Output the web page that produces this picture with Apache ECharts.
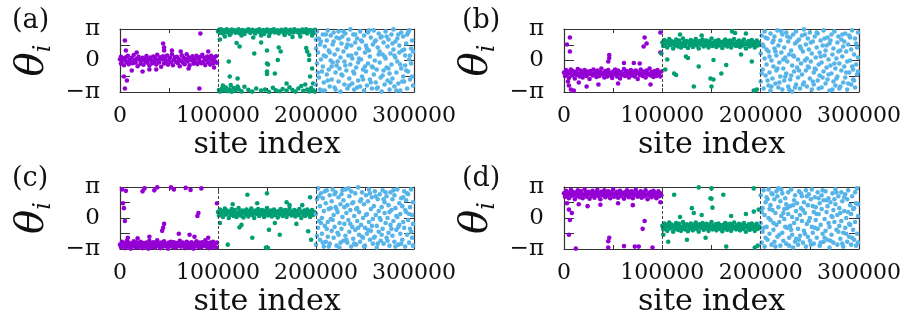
<!DOCTYPE html>
<html><head><meta charset="utf-8">
<script src="https://cdn.jsdelivr.net/npm/echarts@6/dist/echarts.min.js"></script>
<style>html,body{margin:0;padding:0;background:#fff}#c{width:906px;height:321px}</style>
</head><body><div id="c"></div>
<script>
// x in thousands of sites, y = theta_i in radians
const xTickValues=[0,100,200,300];
const xTickLabels=['0','100000','200000','300000'];
const yTickLabels=['−π','0','π'];
const panelLabels=['(a)','(b)','(c)','(d)'];
const boundaries=[100,200];

const aPurple=[[0,0.12],[1,-0.31],[1,0.38],[2,-0.05],[3,0.22],[4,-0.48],[5,0.03],[6,0.31],[7,-0.18],[8,0.47],[9,-0.37],[10,0.09],[11,-0.12],[12,0.28],[13,-0.27],[14,0.55],[15,0.02],[16,-0.21],[17,0.18],[18,-0.58],[19,0.36],[20,0.07],[21,-0.33],[22,0.01],[23,0.26],[24,-0.42],[25,0.17],[26,-0.08],[27,0.44],[28,-0.22],[29,0.11],[30,-0.51],[31,0.29],[32,-0.02],[33,-0.28],[34,0.39],[35,-0.11],[36,0.21],[37,-0.39],[38,0.58],[39,0.04],[40,-0.19],[41,0.33],[42,-0.62],[43,0.13],[44,0.41],[45,-0.29],[46,0.19],[47,-0.06],[48,0.49],[49,-0.41],[50,0.01],[51,0.27],[52,-0.17],[53,0.61],[54,-0.47],[55,0.08],[56,0.31],[57,-0.13],[58,0.37],[59,-0.26],[60,0.16],[61,-0.57],[62,-0.01],[63,0.52],[64,-0.19],[65,0.28],[66,-0.38],[67,0.09],[68,0.63],[69,-0.09],[70,0.32],[71,-0.49],[72,0.18],[73,0.02],[74,0.43],[75,-0.31],[76,0.12],[77,-0.21],[78,0.47],[79,-0.36],[80,0.21],[81,-0.03],[82,0.38],[83,-0.27],[84,0.57],[85,-0.12],[86,0.26],[87,-0.46],[88,0.07],[89,0.39],[90,-0.18],[91,0.23],[92,-0.41],[93,0.48],[94,0.03],[95,-0.29],[96,0.31],[97,-0.09],[98,0.42],[99,-0.22],
[5,2.0],[6,1.0],[4,-1.6],[5,-2.8],[7,-2.0],[23,-1.1],[44,1.7],[45,1.3],[45,1.0],[82,2.7],[81,-2.8],[53,1.0],[30,-0.9],[12,-1.0],[62,0.9],[70,-0.8],[90,0.9],[17,0.8],[37,-0.9],[96,-0.7]];
const aGreen=[[100,2.9],[101,3.05],[102,2.75],[103,3.1],[104,2.95],[105,2.7],[106,3.0],[108,2.85],[109,3.12],[110,2.8],[111,2.98],[113,2.68],[114,3.08],[115,2.9],[117,3.02],[118,2.78],[119,2.95],[121,3.1],[122,2.72],[123,2.88],[125,3.04],[126,2.82],[127,2.65],[129,3.0],[130,2.92],[131,3.12],[133,2.76],[134,2.97],[135,3.06],[137,2.84],[138,2.7],[139,3.01],[141,2.9],[142,3.1],[143,2.79],[145,2.94],[146,3.04],[147,2.66],[149,2.87],[150,3.09],[151,2.96],[153,2.74],[154,3.03],[155,2.89],[157,3.12],[158,2.8],[159,2.93],[161,3.0],[162,2.71],[163,2.86],[165,3.07],[166,2.95],[167,2.77],[169,3.1],[170,2.83],[171,2.99],[173,2.68],[174,3.05],[175,2.91],[177,2.79],[178,3.11],[179,2.96],[181,2.85],[182,3.02],[183,2.73],[185,2.94],[186,3.08],[187,2.81],[189,2.97],[190,3.12],[191,2.7],[193,2.9],[194,3.04],[195,2.86],[197,2.99],[198,2.76],[199,3.06],
[107,2.4],[124,2.5],[136,2.3],[152,2.45],[168,2.55],[184,2.4],[196,2.5],[112,2.55],[144,2.5],[176,2.35],
[101,-2.95],[102,-3.1],[104,-2.8],[106,-3.0],[108,-2.7],[110,-3.05],[112,-2.88],[114,-3.12],[116,-2.75],[118,-2.98],[121,-2.85],[124,-3.08],[127,-2.62],[131,-2.93],[135,-3.1],[139,-2.8],[144,-3.0],[148,-2.9],[152,-3.12],[156,-2.72],[159,-2.97],[163,-3.06],[166,-2.84],[170,-3.0],[173,-2.68],[176,-2.95],[179,-3.1],[182,-2.8],[185,-2.55],[187,-3.02],[189,-2.4],[191,-2.9],[193,-3.08],[195,-2.75],[197,-2.98],[199,-3.1],[105,-2.5],[113,-2.45],[120,-2.6],
[102,2.1],[119,1.75],[122,1.4],[137,0.7],[150,1.0],[151,-0.4],[162,1.3],[150,-1.1],[158,-1.3],[112,-1.6],[120,-1.8],[191,0.9],[193,0.05],[196,-0.8],[197,-2.3],[111,-0.1],[144,1.8],[164,0.9],[161,0.05],[150,-0.3],[150,-1.35],[190,1.25],[193,0.55],[194,-1.6],[170,-2.3]];
const aBlue=[[200,1.2],[200,-2.4],[201,2.9],[201,-0.3],[202,0.8],[203,-1.7],[203,2.2],[204,-2.9],[205,0.1],[205,1.9],[206,-1.1],[207,2.6],[207,-0.6],[208,-2.2],[209,1.4],[209,-3.0],[210,0.4],[211,2.0],[211,-1.4],[212,3.0],[213,-0.9],[213,1.0],[214,-2.6],[215,0.0],[215,2.5],[216,-1.9],[217,1.6],[217,-0.2],[218,2.8],[219,-2.7],[219,0.6],[220,-1.2],[221,2.3],[221,-0.5],[222,1.1],[223,-2.1],[223,2.9],[224,-0.8],[225,0.3],[225,-3.1],[226,1.7],[227,-1.5],[227,2.4],[228,0.9],[229,-2.4],[229,-0.1],[230,2.7],[231,-1.0],[231,1.3],[232,-2.8],[233,0.5],[233,2.1],[234,-1.8],[235,3.1],[235,-0.4],[236,1.5],[237,-2.3],[237,0.2],[238,2.6],[239,-1.3],[239,-2.9],[240,1.8],[241,-0.7],[241,0.7],[242,2.2],[243,-2.0],[243,-0.2],[244,1.2],[245,-2.6],[245,2.9],[246,0.1],[247,-1.6],[247,1.9],[248,-0.9],[249,2.5],[249,-3.0],[250,0.8],[251,-1.1],[251,1.5],[252,-2.5],[253,2.8],[253,-0.3],[254,1.0],[255,-1.9],[255,0.4],[256,2.3],[257,-2.8],[257,-0.6],[258,1.6],[259,3.0],[259,-1.4],[260,0.0],[261,-2.2],[261,2.0],[262,-0.9],[263,1.3],[263,-2.7],[264,2.7],[265,-0.2],[265,0.9],[266,-1.7],[267,2.4],[267,-3.1],[268,0.6],[269,-1.0],[269,1.8],[270,-2.4],[271,2.9],[271,0.2],[272,-0.7],[273,1.4],[273,-2.0],[274,2.1],[275,-1.3],[275,-2.9],[276,0.7],[277,2.6],[277,-0.4],[278,-1.8],[279,1.1],[279,3.1],[280,-2.6],[281,0.3],[281,1.9],[282,-1.2],[283,2.2],[283,-0.1],[284,-2.3],[285,1.5],[285,0.8],[286,-3.0],[287,2.8],[287,-0.8],[288,1.0],[289,-1.6],[289,2.4],[290,-2.1],[291,0.5],[291,-0.5],[292,1.7],[293,-2.8],[293,2.6],[294,-1.1],[295,0.1],[295,3.0],[296,-1.9],[297,1.2],[297,-0.3],[298,2.0],[299,-2.5],[299,0.9],
[200,2.1],[202,-1.2],[204,1.6],[206,-3.0],[208,0.5],[210,2.6],[212,-2.0],[214,0.8],[216,-0.6],[218,1.9],[220,-2.9],[222,-0.1],[224,2.2],[226,-1.4],[228,2.9],[230,-0.5],[232,1.6],[234,-2.5],[236,0.5],[238,-1.1],[240,2.6],[242,-2.7],[244,0.2],[246,2.0],[248,-1.9],[250,-0.6],[252,1.2],[254,3.0],[256,-2.2],[258,-0.7],[260,1.9],[262,-2.8],[264,0.6],[266,2.3],[268,-1.5],[270,0.4],[272,2.4],[274,-0.8],[276,-2.2],[278,1.7],[280,0.5],[282,-3.0],[284,2.6],[286,-0.4],[288,-2.1],[290,1.1],[292,-1.0],[294,2.8],[296,0.5],[298,-1.6]];

const bPurple=[[0,-1.2],[1,-1.55],[2,-0.95],[3,-1.4],[4,-1.1],[5,-1.75],[6,-1.25],[7,-0.9],[8,-1.5],[9,-1.05],[10,-1.35],[11,-1.8],[12,-1.15],[13,-1.45],[14,-0.85],[15,-1.3],[16,-1.6],[17,-1.0],[18,-1.25],[19,-1.7],[20,-1.4],[21,-0.95],[22,-1.2],[23,-1.55],[24,-1.1],[25,-1.35],[26,-1.85],[27,-1.05],[28,-1.3],[29,-1.5],[30,-0.9],[31,-1.45],[32,-1.2],[33,-1.65],[34,-1.0],[35,-1.3],[36,-1.55],[37,-1.15],[38,-0.8],[39,-1.4],[40,-1.25],[41,-1.7],[42,-1.05],[43,-1.35],[44,-1.6],[45,-0.95],[46,-1.2],[47,-1.5],[48,-1.3],[49,-1.75],[50,-1.1],[51,-1.4],[52,-0.9],[53,-1.25],[54,-1.6],[55,-1.0],[56,-1.35],[57,-1.8],[58,-1.15],[59,-1.45],[60,-1.3],[61,-0.85],[62,-1.55],[63,-1.2],[64,-1.05],[65,-1.4],[66,-1.7],[67,-1.25],[68,-0.95],[69,-1.5],[70,-1.1],[71,-1.35],[72,-1.6],[73,-1.0],[74,-1.3],[75,-1.85],[76,-1.2],[77,-1.45],[78,-0.9],[79,-1.35],[80,-1.55],[81,-1.1],[82,-1.25],[83,-1.7],[84,-1.0],[85,-1.4],[86,-1.3],[87,-0.8],[88,-1.5],[89,-1.15],[90,-1.35],[91,-1.65],[92,-1.05],[93,-1.25],[94,-1.55],[95,-0.95],[96,-1.4],[97,-1.2],[98,-1.6],[99,-1.1],
[6,2.3],[6,0.9],[4,-2.1],[7,-2.9],[5,-2.5],[46,0.55],[46,0.25],[45,-0.1],[82,2.3],[84,1.7],[81,1.4],[98,2.8],[98,0.8],[61,-0.25],[71,-0.25],[77,-0.3],[23,-2.6],[35,-2.4],[10,-3.0],[3,1.6],[15,-2.2],[55,-2.3],[88,-2.4]];
const bGreen=[[100,1.8],[101,1.45],[102,2.05],[103,1.6],[104,1.9],[105,1.3],[106,1.75],[107,2.15],[108,1.55],[109,1.95],[110,1.65],[111,1.2],[112,1.85],[113,1.5],[114,2.1],[115,1.7],[116,1.4],[117,2.0],[118,1.75],[119,1.3],[120,1.6],[121,2.2],[122,1.85],[123,1.45],[124,1.7],[125,1.95],[126,1.25],[127,1.8],[128,1.55],[129,2.05],[130,1.65],[131,1.35],[132,1.9],[133,1.7],[134,2.15],[135,1.5],[136,1.8],[137,1.2],[138,1.95],[139,1.6],[140,1.75],[141,2.1],[142,1.4],[143,1.85],[144,1.55],[145,2.0],[146,1.7],[147,1.3],[148,1.9],[149,1.65],[150,2.2],[151,1.45],[152,1.8],[153,1.6],[154,1.95],[155,1.35],[156,1.75],[157,2.05],[158,1.5],[159,1.85],[160,1.7],[161,1.25],[162,1.9],[163,1.55],[164,2.1],[165,1.75],[166,1.4],[167,1.95],[168,1.65],[169,2.0],[170,1.3],[171,1.8],[172,1.6],[173,2.15],[174,1.7],[175,1.45],[176,1.85],[177,1.55],[178,2.0],[179,1.35],[180,1.75],[181,1.9],[182,1.5],[183,2.1],[184,1.65],[185,1.2],[186,1.8],[187,1.6],[188,1.95],[189,1.4],[190,1.75],[191,2.05],[192,1.55],[193,1.85],[194,1.3],[195,1.7],[196,2.0],[197,1.5],[198,1.8],[199,1.6],
[99,0.7],[124,0.4],[126,0.25],[137,-0.6],[112,-1.3],[114,-1.45],[132,-2.6],[140,2.5],[152,0.05],[165,-0.45],[160,-1.3],[149,-1.8],[152,-1.9],[150,-2.6],[191,-0.1],[193,-3.0],[196,-2.9],[171,2.9],[174,2.75],[105,0.1],[118,2.6],[185,2.7],[180,0.6],[103,-0.9]];
const bBlue=[[200,-2.1],[200,0.7],[201,2.5],[202,-0.9],[202,1.6],[203,-2.8],[204,0.2],[204,2.9],[205,-1.5],[206,1.1],[206,-0.4],[207,2.2],[208,-2.5],[208,0.9],[209,-1.2],[210,2.7],[210,-3.0],[211,0.0],[212,1.8],[212,-1.8],[213,-0.6],[214,2.4],[214,1.2],[215,-2.3],[216,0.5],[216,-1.0],[217,3.0],[218,-2.7],[218,1.5],[219,-0.2],[220,2.0],[220,-1.6],[221,0.8],[222,-2.9],[222,2.6],[223,-0.8],[224,1.3],[224,-2.0],[225,0.3],[226,2.8],[226,-1.3],[227,-0.1],[228,1.9],[228,-2.6],[229,0.6],[230,-1.9],[230,2.3],[231,1.0],[232,-3.1],[232,-0.5],[233,2.6],[234,-1.1],[234,0.4],[235,1.7],[236,-2.4],[236,2.9],[237,-0.7],[238,0.1],[238,-1.7],[239,2.1],[240,-2.8],[240,1.4],[241,-0.3],[242,2.5],[242,-1.4],[243,0.9],[244,-2.2],[244,3.1],[245,0.0],[246,-1.0],[246,1.6],[247,-2.6],[248,2.2],[248,-0.6],[249,1.1],[250,-1.8],[250,2.8],[251,-0.1],[252,-2.9],[252,0.7],[253,1.9],[254,-1.2],[254,-2.4],[255,2.4],[256,0.3],[256,-0.9],[257,1.3],[258,-2.0],[258,2.7],[259,-0.4],[260,0.8],[260,-1.5],[261,2.0],[262,-2.7],[262,-0.2],[263,1.5],[264,-1.1],[264,3.0],[265,0.5],[266,-2.3],[266,1.0],[267,-0.7],[268,2.3],[268,-1.9],[269,0.1],[270,-3.0],[270,1.7],[271,-0.5],[272,2.6],[272,-1.3],[273,0.6],[274,-2.1],[274,1.2],[275,2.9],[276,-0.8],[276,-2.5],[277,0.2],[278,1.8],[278,-1.6],[279,2.4],[280,-0.3],[280,-2.8],[281,1.0],[282,-1.0],[282,2.1],[283,0.4],[284,-2.2],[284,1.4],[285,-0.6],[286,2.7],[286,-1.7],[287,0.9],[288,-2.9],[288,-0.1],[289,1.6],[290,-1.2],[290,2.5],[291,0.0],[292,-2.4],[292,1.1],[293,3.0],[294,-0.9],[294,-1.9],[295,0.6],[296,2.2],[296,-2.7],[297,-0.4],[298,1.3],[298,-1.4],[299,2.8],[299,0.3],
[201,-1.3],[203,1.4],[205,2.3],[207,-2.0],[209,0.4],[211,-2.6],[213,2.0],[215,0.9],[217,-0.8],[219,-2.2],[221,2.9],[223,0.1],[225,-1.6],[227,2.4],[229,-2.9],[231,-1.5],[233,0.5],[235,-2.7],[237,1.9],[239,-1.0],[241,1.2],[243,-2.4],[245,2.6],[247,0.2],[249,-0.7],[251,1.8],[253,-2.1],[255,-0.8],[257,2.8],[259,-2.8],[261,0.4],[263,-1.7],[265,2.2],[267,1.5],[269,-1.4],[271,2.0],[273,-2.9],[275,-0.3],[277,-1.8],[279,0.9],[281,-2.6],[283,2.6],[285,1.9],[287,-1.2],[289,-2.3],[291,2.3],[293,-0.6],[295,-2.0],[297,1.7],[299,-1.1]];

const cPurple=[[0,-2.7],[1,-2.95],[2,-2.4],[3,-2.8],[4,-2.55],[5,-3.05],[6,-2.65],[7,-2.3],[8,-2.9],[9,-2.5],[10,-2.75],[11,-3.1],[12,-2.6],[13,-2.85],[14,-2.35],[15,-2.7],[16,-3.0],[17,-2.45],[18,-2.65],[19,-2.95],[20,-2.8],[21,-2.4],[22,-2.6],[23,-3.05],[24,-2.55],[25,-2.75],[26,-2.9],[27,-2.5],[28,-2.7],[29,-3.1],[30,-2.3],[31,-2.85],[32,-2.6],[33,-2.95],[34,-2.45],[35,-2.7],[36,-3.0],[37,-2.55],[38,-2.25],[39,-2.8],[40,-2.65],[41,-3.05],[42,-2.5],[43,-2.75],[44,-2.9],[45,-2.35],[46,-2.6],[47,-2.85],[48,-2.7],[49,-3.1],[50,-2.5],[51,-2.8],[52,-2.4],[53,-2.65],[54,-2.95],[55,-2.45],[56,-2.75],[57,-3.0],[58,-2.55],[59,-2.85],[60,-2.7],[61,-2.3],[62,-2.9],[63,-2.6],[64,-2.5],[65,-2.8],[66,-3.05],[67,-2.65],[68,-2.4],[69,-2.95],[70,-2.55],[71,-2.75],[72,-3.0],[73,-2.45],[74,-2.7],[75,-3.1],[76,-2.6],[77,-2.85],[78,-2.35],[79,-2.75],[80,-2.95],[81,-2.5],[82,-2.65],[83,-3.0],[84,-2.45],[85,-2.8],[86,-2.7],[87,-2.25],[88,-2.9],[89,-2.55],[90,-2.75],[91,-3.05],[92,-2.5],[93,-2.65],[94,-2.95],[95,-2.4],[96,-2.8],[97,-2.6],[98,-3.0],[99,-2.5],
[2,2.9],[6,2.75],[23,2.7],[25,3.0],[35,2.8],[38,3.1],[52,3.1],[55,2.9],[67,3.05],[72,2.85],[83,3.0],[4,1.0],[5,-0.3],[3,1.5],[80,0.5],[79,0.2],[99,1.5],[44,-1.0],[45,-0.6],[43,-1.3],[60,-1.6],[71,-1.7],[76,-1.9],[90,-2.0],[8,-2.0],[30,-1.9],[18,-2.05]];
const cGreen=[[100,0.6],[101,0.25],[102,0.85],[103,0.4],[104,0.7],[105,0.1],[106,0.55],[107,0.95],[108,0.35],[109,0.75],[110,0.45],[111,0.0],[112,0.65],[113,0.3],[114,0.9],[115,0.5],[116,0.2],[117,0.8],[118,0.55],[119,0.1],[120,0.4],[121,1.0],[122,0.65],[123,0.25],[124,0.5],[125,0.75],[126,0.05],[127,0.6],[128,0.35],[129,0.85],[130,0.45],[131,0.15],[132,0.7],[133,0.5],[134,0.95],[135,0.3],[136,0.6],[137,0.0],[138,0.75],[139,0.4],[140,0.55],[141,0.9],[142,0.2],[143,0.65],[144,0.35],[145,0.8],[146,0.5],[147,0.1],[148,0.7],[149,0.45],[150,1.0],[151,0.25],[152,0.6],[153,0.4],[154,0.75],[155,0.15],[156,0.55],[157,0.85],[158,0.3],[159,0.65],[160,0.5],[161,0.05],[162,0.7],[163,0.35],[164,0.9],[165,0.55],[166,0.2],[167,0.75],[168,0.45],[169,0.8],[170,0.1],[171,0.6],[172,0.4],[173,0.95],[174,0.5],[175,0.25],[176,0.65],[177,0.35],[178,0.8],[179,0.15],[180,0.55],[181,0.7],[182,0.3],[183,0.9],[184,0.45],[185,0.0],[186,0.6],[187,0.4],[188,0.75],[189,0.2],[190,0.55],[191,0.85],[192,0.35],[193,0.65],[194,0.1],[195,0.5],[196,0.8],[197,0.3],[198,0.6],[199,0.4],
[130,2.35],[150,2.5],[124,-0.7],[122,-0.95],[135,-2.0],[110,-2.7],[149,-3.0],[151,-3.05],[194,2.1],[152,-1.2],[163,-1.7],[192,-1.35],[195,-2.2],[170,1.6],[173,1.3],[102,-0.5],[140,1.5],[180,-0.6],[115,1.4],[186,1.3],[158,-0.5]];
const cBlue=[[200,0.4],[200,-2.7],[201,1.9],[202,-1.0],[202,3.0],[203,-0.3],[204,-2.2],[204,1.2],[205,2.5],[206,-1.6],[206,0.0],[207,2.0],[208,-2.9],[208,0.7],[209,-0.8],[210,1.5],[210,-2.4],[211,2.8],[212,-0.4],[212,-1.9],[213,0.9],[214,2.3],[214,-2.6],[215,-0.1],[216,1.7],[216,-1.3],[217,2.9],[218,0.3],[218,-2.0],[219,-0.9],[220,1.1],[220,2.6],[221,-2.8],[222,0.6],[222,-1.5],[223,2.1],[224,-0.5],[224,-3.0],[225,1.4],[226,-1.1],[226,2.4],[227,0.1],[228,-2.3],[228,1.8],[229,-0.6],[230,2.9],[230,-1.8],[231,0.5],[232,-2.5],[232,1.3],[233,-0.2],[234,2.2],[234,-1.4],[235,0.8],[236,-2.9],[236,2.7],[237,-0.9],[238,1.6],[238,-2.1],[239,0.2],[240,2.5],[240,-1.2],[241,-2.7],[242,1.0],[242,-0.3],[243,3.1],[244,-1.7],[244,0.6],[245,-2.4],[246,1.9],[246,-0.7],[247,2.6],[248,-2.0],[248,0.0],[249,1.4],[250,-1.0],[250,-2.8],[251,2.3],[252,0.4],[252,-1.6],[253,1.7],[254,-0.4],[254,2.9],[255,-2.2],[256,0.9],[256,-1.3],[257,2.1],[258,-2.6],[258,-0.1],[259,1.2],[260,2.7],[260,-1.9],[261,0.3],[262,-0.8],[262,-3.0],[263,1.9],[264,0.7],[264,-1.4],[265,2.4],[266,-2.3],[266,-0.2],[267,1.1],[268,2.8],[268,-1.1],[269,-2.6],[270,0.5],[270,1.6],[271,-0.5],[272,-2.0],[272,2.2],[273,0.0],[274,-1.5],[274,1.3],[275,-2.8],[276,2.6],[276,-0.7],[277,0.8],[278,-1.8],[278,1.9],[279,-0.3],[280,2.3],[280,-2.4],[281,1.0],[282,-1.2],[282,0.2],[283,2.9],[284,-2.7],[284,-0.9],[285,1.5],[286,0.4],[286,-1.6],[287,2.0],[288,-2.2],[288,1.2],[289,-0.4],[290,2.7],[290,-1.0],[291,-2.9],[292,0.6],[292,1.8],[293,-1.7],[294,2.4],[294,-0.2],[295,-2.5],[296,1.1],[296,-1.1],[297,2.9],[298,0.3],[298,-2.0],[299,1.6],[299,-0.6],
[201,-1.8],[203,2.2],[205,-0.5],[207,-2.5],[209,2.7],[211,-1.1],[213,-2.9],[215,1.0],[217,-0.2],[219,2.4],[221,0.9],[223,-1.7],[225,-2.5],[227,2.8],[229,1.1],[231,-2.2],[233,3.0],[235,-0.6],[237,1.5],[239,-2.6],[241,0.9],[243,-1.0],[245,1.7],[247,-1.9],[249,-2.9],[251,0.3],[253,-1.2],[255,2.5],[257,-0.8],[259,-2.0],[261,2.2],[263,-2.6],[265,0.0],[267,-1.7],[269,1.9],[271,2.6],[273,-2.3],[275,0.6],[277,-1.1],[279,2.8],[281,-2.9],[283,0.1],[285,-0.7],[287,-2.6],[289,2.1],[291,0.8],[293,2.5],[295,0.4],[297,-1.4],[299,-2.8]];

const dPurple=[[0,2.5],[1,2.15],[2,2.75],[3,2.3],[4,2.6],[5,2.0],[6,2.45],[7,2.85],[8,2.25],[9,2.65],[10,2.35],[11,1.9],[12,2.55],[13,2.2],[14,2.8],[15,2.4],[16,2.1],[17,2.7],[18,2.45],[19,2.0],[20,2.3],[21,2.9],[22,2.55],[23,2.15],[24,2.4],[25,2.65],[26,1.95],[27,2.5],[28,2.25],[29,2.75],[30,2.35],[31,2.05],[32,2.6],[33,2.4],[34,2.85],[35,2.2],[36,2.5],[37,1.9],[38,2.65],[39,2.3],[40,2.45],[41,2.8],[42,2.1],[43,2.55],[44,2.25],[45,2.7],[46,2.4],[47,2.0],[48,2.6],[49,2.35],[50,2.9],[51,2.15],[52,2.5],[53,2.3],[54,2.65],[55,2.05],[56,2.45],[57,2.75],[58,2.2],[59,2.55],[60,2.4],[61,1.95],[62,2.6],[63,2.25],[64,2.8],[65,2.45],[66,2.1],[67,2.65],[68,2.35],[69,2.7],[70,2.0],[71,2.5],[72,2.3],[73,2.85],[74,2.4],[75,2.15],[76,2.55],[77,2.25],[78,2.7],[79,2.05],[80,2.45],[81,2.6],[82,2.2],[83,2.8],[84,2.35],[85,1.9],[86,2.5],[87,2.3],[88,2.65],[89,2.1],[90,2.45],[91,2.75],[92,2.25],[93,2.55],[94,2.0],[95,2.4],[96,2.7],[97,2.2],[98,2.5],[99,2.3],
[5,0.85],[8,0.5],[6,-0.2],[5,-1.7],[12,-3.1],[24,1.2],[37,1.35],[46,-2.0],[45,-2.35],[45,-3.0],[61,-2.85],[72,-2.9],[76,-2.9],[82,-0.3],[80,-1.1],[90,-3.0],[3,1.5],[15,1.4],[55,1.5],[70,1.3],[98,1.6]];
const dGreen=[[100,-0.8],[101,-1.15],[102,-0.55],[103,-1.0],[104,-0.7],[105,-1.3],[106,-0.85],[107,-0.45],[108,-1.05],[109,-0.65],[110,-0.95],[111,-1.4],[112,-0.75],[113,-1.1],[114,-0.5],[115,-0.9],[116,-1.2],[117,-0.6],[118,-0.85],[119,-1.3],[120,-1.0],[121,-0.4],[122,-0.75],[123,-1.15],[124,-0.9],[125,-0.65],[126,-1.35],[127,-0.8],[128,-1.05],[129,-0.55],[130,-0.95],[131,-1.25],[132,-0.7],[133,-0.9],[134,-0.45],[135,-1.1],[136,-0.8],[137,-1.4],[138,-0.65],[139,-1.0],[140,-0.85],[141,-0.5],[142,-1.2],[143,-0.75],[144,-1.05],[145,-0.6],[146,-0.9],[147,-1.3],[148,-0.7],[149,-0.95],[150,-0.4],[151,-1.15],[152,-0.8],[153,-1.0],[154,-0.65],[155,-1.25],[156,-0.85],[157,-0.55],[158,-1.1],[159,-0.75],[160,-0.9],[161,-1.35],[162,-0.7],[163,-1.05],[164,-0.5],[165,-0.85],[166,-1.2],[167,-0.65],[168,-0.95],[169,-0.6],[170,-1.3],[171,-0.8],[172,-1.0],[173,-0.45],[174,-0.9],[175,-1.15],[176,-0.75],[177,-1.05],[178,-0.6],[179,-1.25],[180,-0.85],[181,-0.7],[182,-1.1],[183,-0.5],[184,-0.95],[185,-1.4],[186,-0.8],[187,-1.0],[188,-0.65],[189,-1.2],[190,-0.85],[191,-0.55],[192,-1.05],[193,-0.75],[194,-1.3],[195,-0.9],[196,-0.6],[197,-1.1],[198,-0.8],[199,-1.0],
[112,2.36],[137,3.1],[130,1.0],[132,0.5],[125,-2.2],[101,-1.7],[150,3.0],[149,2.0],[150,1.95],[162,2.36],[151,1.05],[193,3.0],[198,0.85],[193,0.65],[144,-2.0],[165,-2.9],[194,-3.0],[197,-2.8],[170,0.2],[118,0.1],[140,0.3],[185,0.4],[106,-2.4]];
const dBlue=[[200,-0.5],[200,2.3],[201,-2.5],[202,1.0],[202,-1.4],[203,2.8],[204,0.3],[204,-2.9],[205,1.6],[206,-0.9],[206,2.1],[207,-2.2],[208,0.0],[208,2.9],[209,-1.6],[210,1.3],[210,-0.2],[211,-2.7],[212,2.4],[212,0.8],[213,-1.2],[214,1.9],[214,-2.4],[215,0.5],[216,2.7],[216,-0.7],[217,-1.9],[218,1.1],[218,3.0],[219,-0.4],[220,-2.8],[220,1.7],[221,0.2],[222,-1.5],[222,2.5],[223,-2.3],[224,0.9],[224,-0.1],[225,2.0],[226,-2.6],[226,1.4],[227,-1.0],[228,2.6],[228,0.4],[229,-2.0],[230,1.2],[230,-0.8],[231,2.9],[232,-1.7],[232,0.1],[233,-3.0],[234,1.8],[234,-0.5],[235,2.3],[236,-2.1],[236,0.7],[237,1.5],[238,-1.1],[238,-2.7],[239,2.7],[240,0.3],[240,-1.8],[241,1.0],[242,-0.3],[242,2.2],[243,-2.5],[244,1.6],[244,-1.3],[245,0.5],[246,2.8],[246,-2.9],[247,-0.6],[248,1.3],[248,-1.9],[249,2.4],[250,0.0],[250,-2.3],[251,1.9],[252,-0.9],[252,2.9],[253,-1.5],[254,0.6],[254,-2.6],[255,2.1],[256,-0.2],[256,1.1],[257,-2.0],[258,2.6],[258,-1.1],[259,0.4],[260,-2.8],[260,1.5],[261,-0.7],[262,2.3],[262,0.9],[263,-1.6],[264,-2.4],[264,1.8],[265,-0.1],[266,2.7],[266,-1.3],[267,0.6],[268,-2.2],[268,1.2],[269,2.0],[270,-0.9],[270,-3.0],[271,1.6],[272,0.2],[272,-1.7],[273,2.5],[274,-2.5],[274,0.8],[275,-0.4],[276,1.4],[276,2.9],[277,-1.2],[278,-2.7],[278,0.3],[279,2.2],[280,-0.8],[280,1.0],[281,-2.1],[282,2.6],[282,-0.3],[283,1.7],[284,-1.5],[284,-2.9],[285,0.7],[286,2.4],[286,-1.0],[287,0.0],[288,-2.4],[288,1.9],[289,2.8],[290,-0.6],[290,-1.9],[291,1.3],[292,0.4],[292,-2.7],[293,2.2],[294,-1.2],[294,0.9],[295,-2.2],[296,2.6],[296,-0.4],[297,1.5],[298,-1.6],[298,3.0],[299,0.2],[299,-2.5],
[201,0.6],[203,-1.0],[205,-2.0],[207,1.9],[209,0.9],[211,2.5],[213,-0.5],[215,-2.9],[217,2.2],[219,-1.7],[221,2.9],[223,0.5],[225,-0.9],[227,1.0],[229,-2.8],[231,-1.2],[233,1.3],[235,-2.4],[237,-0.1],[239,-2.2],[241,2.5],[243,0.8],[245,-1.6],[247,2.2],[249,-0.3],[251,-2.7],[253,1.2],[255,-1.0],[257,0.4],[259,2.0],[261,-2.5],[263,2.8],[265,-2.0],[267,1.8],[269,-0.5],[271,-2.3],[273,0.1],[275,1.9],[277,2.6],[279,-1.4],[281,0.5],[283,-2.6],[285,2.1],[287,-1.6],[289,0.6],[291,-0.7],[293,-2.0],[295,1.0],[297,-2.8],[299,1.4]];

const panels=[
  {purple:aPurple,green:aGreen,blue:aBlue},
  {purple:bPurple,green:bGreen,blue:bBlue},
  {purple:cPurple,green:cGreen,blue:cBlue},
  {purple:dPurple,green:dGreen,blue:dBlue}
];
const colors={purple:'#9400d3',green:'#009e73',blue:'#56b4e9'};
const grids=[
  {left:120,top:29,width:294,height:63},
  {left:564,top:29,width:295,height:63},
  {left:120,top:187,width:294,height:62},
  {left:564,top:187,width:295,height:62}
];
const labelPos=[[12,7],[462,7],[12,165],[462,165]];
const FONT='DejaVu Serif';
const FRAME='#333';
const yTickValues=[-Math.PI,0,Math.PI];
function yFmt(v){for(let k=0;k<yTickValues.length;k++){if(Math.abs(v-yTickValues[k])<1e-6)return yTickLabels[k];}return '';}
function xFmt(v){const k=xTickValues.indexOf(Math.round(v));return (k<0||Math.abs(v-xTickValues[k])>1e-6)?'':xTickLabels[k];}

const option={animation:false,grid:[],xAxis:[],yAxis:[],series:[],title:[]};
const lineStyle={color:FRAME,width:1.2};
panels.forEach((p,i)=>{
  option.grid.push(grids[i]);
  option.title.push({text:panelLabels[i],left:labelPos[i][0],top:labelPos[i][1],padding:0,
    textStyle:{fontFamily:FONT,fontSize:27,fontWeight:'normal',color:'#111'}});
  option.xAxis.push({gridIndex:i,type:'value',min:0,max:300,interval:50,position:'bottom',
    axisLine:{show:true,onZero:false,lineStyle},
    axisTick:{show:true,inside:true,length:4,lineStyle:{color:FRAME,width:1}},
    splitLine:{show:false},
    axisLabel:{show:true,margin:13,fontFamily:FONT,fontSize:22,color:'#111',formatter:xFmt},
    name:'site index',nameLocation:'middle',nameGap:38,
    nameTextStyle:{fontFamily:FONT,fontSize:30,color:'#111'}});
  option.xAxis.push({gridIndex:i,type:'value',min:0,max:300,interval:50,position:'top',
    axisLine:{show:true,onZero:false,lineStyle},
    axisTick:{show:true,inside:true,length:4,lineStyle:{color:FRAME,width:1}},
    splitLine:{show:false},axisLabel:{show:false}});
  option.yAxis.push({gridIndex:i,type:'value',min:-Math.PI,max:Math.PI,interval:Math.PI/2,position:'left',
    axisLine:{show:true,onZero:false,lineStyle},
    axisTick:{show:true,inside:true,length:10,lineStyle:{color:FRAME,width:1}},
    splitLine:{show:false},
    axisLabel:{show:true,margin:20,fontFamily:FONT,fontSize:23,color:'#111',formatter:yFmt},
    name:'{t|θ}{s|i}',nameLocation:'middle',nameRotate:90,nameGap:64,
    nameTextStyle:{rich:{
      t:{fontFamily:FONT,fontStyle:'italic',fontSize:40,color:'#111',verticalAlign:'bottom',padding:[0,0,3,0]},
      s:{fontFamily:FONT,fontStyle:'italic',fontSize:24,color:'#111',verticalAlign:'bottom'}}}});
  option.yAxis.push({gridIndex:i,type:'value',min:-Math.PI,max:Math.PI,interval:Math.PI/2,position:'right',
    axisLine:{show:true,onZero:false,lineStyle},
    axisTick:{show:true,inside:true,length:10,lineStyle:{color:FRAME,width:1}},
    splitLine:{show:false},axisLabel:{show:false}});
  ['purple','green','blue'].forEach((k,j)=>{
    const s={type:'scatter',xAxisIndex:2*i,yAxisIndex:2*i,data:p[k],symbol:'circle',symbolSize:4.6,
      itemStyle:{color:colors[k],opacity:1},silent:true};
    if(j===0){
      s.markLine={silent:true,symbol:['none','none'],label:{show:false},animation:false,
        lineStyle:{color:'#444',type:[3,2],width:1},data:boundaries.map(b=>({xAxis:b}))};
    }
    option.series.push(s);
  });
});
const chart=echarts.init(document.getElementById('c'),null,{renderer:'canvas'});
chart.setOption(option);
</script>
</body></html>
